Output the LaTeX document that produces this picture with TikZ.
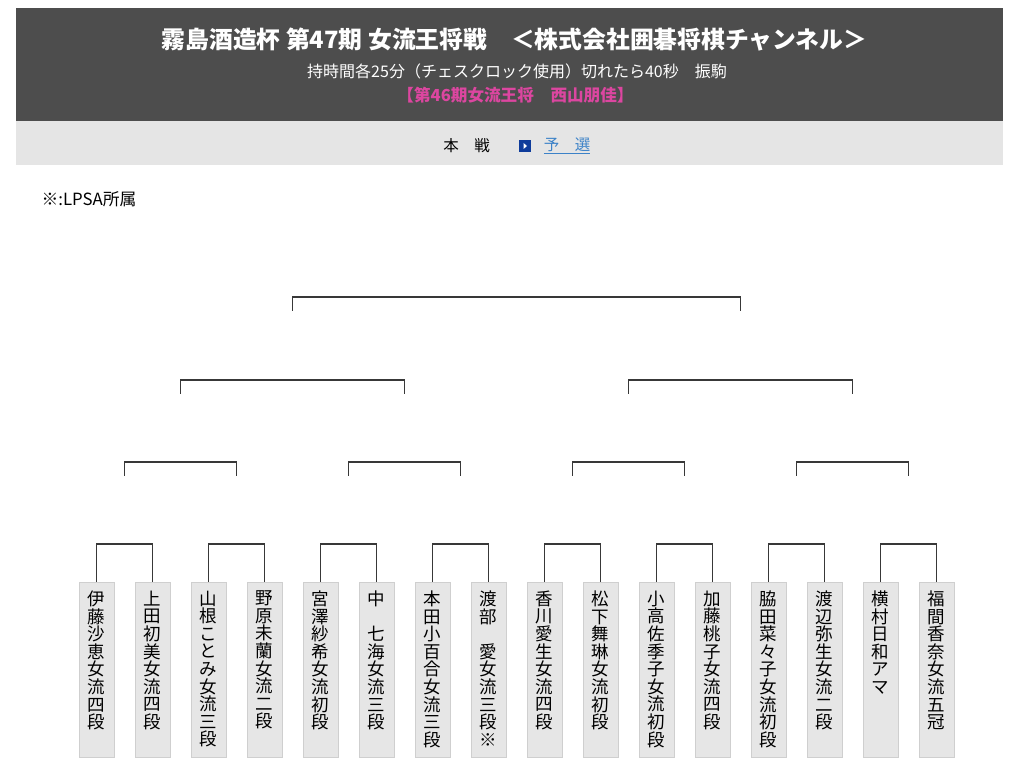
\documentclass[tikz,border=0pt]{standalone}
\usepackage{fontspec}
\setmainfont{Noto Sans CJK JP}
\usetikzlibrary{positioning,calc}
\definecolor{headgray}{HTML}{4D4D4D}
\definecolor{bandgray}{HTML}{E5E5E5}
\definecolor{boxgray}{HTML}{E6E6E6}
\definecolor{boxline}{HTML}{CFCFCF}
\definecolor{bracketgray}{HTML}{383838}
\definecolor{champpink}{HTML}{DC46A0}
\definecolor{linkblue}{HTML}{3C82C8}
\definecolor{iconblue}{HTML}{0F3C9B}
% stack the characters of a name one below the other
\makeatletter
\def\tate@go{\@tfor\tate@c:=}
\newcommand{\tate}[1]{\edef\tate@list{#1}\vbox{\lineskiplimit=-100pt\baselineskip=17.6pt
  \expandafter\tate@go\tate@list\do{\hbox to 18pt{\hss\tate@c\hss}}}}
\makeatother

\begin{document}
\begin{tikzpicture}[x=1pt, y=-1pt,
  player/.style={draw=boxline, fill=boxgray, line width=0.8pt, minimum width=35pt, minimum height=175pt, inner sep=0pt},
  playername/.style={inner sep=0pt, font=\fontsize{17.5}{17.6}\selectfont},
  bracket/.style={draw=bracketgray, line width=1.8pt}]
  \useasboundingbox (0,0) rectangle (1019,778);
  % header
  \fill[headgray] (16,8) rectangle (1003,121);
  \fill[bandgray] (16,121) rectangle (1003,165);
  \node[white, font=\fontsize{23.8}{26}\selectfont\bfseries] (title) at (514.5,40) {霧島酒造杯 第47期 女流王将戦　＜株式会社囲碁将棋チャンネル＞};
  \node[white, font=\fontsize{16}{18}\selectfont] (rules) at (517,71) {持時間各25分（チェスクロック使用）切れたら40秒　振駒};
  \node[champpink, font=\fontsize{16.6}{18}\selectfont\bfseries] (champ) at (515.5,95) {【第46期女流王将　西山朋佳】};
  \node[font=\fontsize{15.5}{17}\selectfont] (main) at (466.5,146) {本　戦};
  \node[fill=iconblue, minimum size=12pt, inner sep=0pt] (icon) at (525,146) {};
  \fill[white] ($(icon.center)+(-1.5,-3)$) -- ++(3.5,3) -- ++(-3.5,3) -- cycle;
  \node[linkblue, font=\fontsize{15.5}{17}\selectfont] (prelim) at (567,146) {\underline{予　選}};
  \node[anchor=west, font=\fontsize{16.8}{18}\selectfont] (note) at (38,199) {※:LPSA所属};

  % players
  \foreach \i/\nm in {1/伊藤沙恵女流四段, 2/上田初美女流四段, 3/山根ことみ女流三段, 4/野原未蘭女流二段,
      5/宮澤紗希女流初段, 6/中　七海女流三段, 7/本田小百合女流三段, 8/渡部　愛女流三段※,
      9/香川愛生女流四段, 10/松下舞琳女流初段, 11/小高佐季子女流初段, 12/加藤桃子女流四段,
      13/脇田菜々子女流初段, 14/渡辺弥生女流二段, 15/横村日和アマ, 16/福間香奈女流五冠}{
    \node[player] (p\i) at ({96.5+56*(\i-1)},669.5) {};
    \node[playername, below=9pt of p\i.north] (n\i) {\tate{\nm}};
  }

  % bracket, round by round
  \foreach \i in {1,...,8}{
    \pgfmathtruncatemacro\a{2*\i-1}
    \pgfmathtruncatemacro\b{2*\i}
    \draw[bracket] (p\a.north) -- ++(0,-38) -| (p\b.north);
    \coordinate (r\i) at ($(p\a.north)!0.5!(p\b.north)+(0,-106)$);
  }
  \foreach \i in {1,...,4}{
    \pgfmathtruncatemacro\a{2*\i-1}
    \pgfmathtruncatemacro\b{2*\i}
    \draw[bracket] (r\a) -- ++(0,-14) -| (r\b);
    \coordinate (s\i) at ($(r\a)!0.5!(r\b)+(0,-82)$);
  }
  \foreach \i in {1,2}{
    \pgfmathtruncatemacro\a{2*\i-1}
    \pgfmathtruncatemacro\b{2*\i}
    \draw[bracket] (s\a) -- ++(0,-14) -| (s\b);
    \coordinate (t\i) at ($(s\a)!0.5!(s\b)+(0,-83)$);
  }
  \draw[bracket] (t1) -- ++(0,-14) -| (t2);
\end{tikzpicture}
\end{document}
